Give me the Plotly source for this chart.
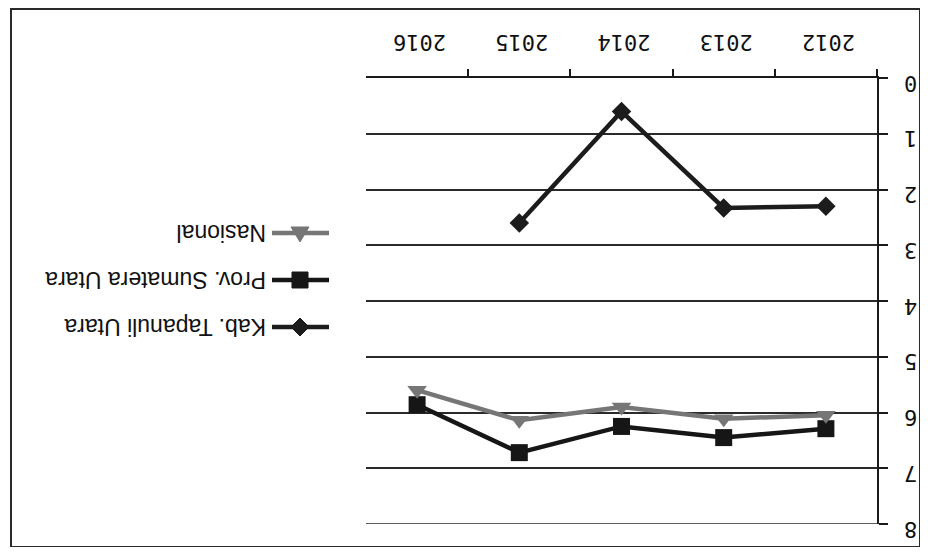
import plotly.graph_objects as go

years = ["2012", "2013", "2014", "2015", "2016"]
kab_tapanuli = [2.3, 2.33, 0.6, 2.6, None]
prov_sumut = [6.29, 6.45, 6.25, 6.72, 5.86]
nasional = [6.05, 6.11, 5.9, 6.14, 5.6]
y_ticks = [0, 1, 2, 3, 4, 5, 6, 7, 8]

names = ["Kab. Tapanuli Utara", "Prov. Sumatera Utara", "Nasional"]
colors = ["#1c1c1c", "#161616", "#767676"]
symbols = ["diamond", "square", "triangle-down"]
sizes = [15, 17, 17]

# page has an 8px body margin -> figure origin sits at page (8, 8)
OFF = 8
W_PX, H_PX = 912, 539
L, R, T, B = 358, 43, 70, 23
PW, PH = W_PX - L - R, H_PX - T - B


def px(x):  # page pixel -> paper x
    return (x - OFF - L) / PW


def py(y):  # page pixel -> paper y
    return 1 - (y - OFF - T) / PH


fig = go.Figure()
for name, vals, c, s, sz in zip(names, [kab_tapanuli, prov_sumut, nasional], colors, symbols, sizes):
    fig.add_trace(go.Scatter(
        x=years, y=vals, mode="lines+markers", name=name,
        line=dict(color=c, width=4.5),
        marker=dict(symbol=s, size=sz, color=c),
        showlegend=False, connectgaps=False,
    ))

# upside-down legend drawn with shapes + rotated annotations
leg_y = [327, 280, 233]
mx = 300
shapes = []
for yy, c in zip(leg_y, colors):
    shapes.append(dict(type="line", xref="paper", yref="paper",
                       x0=px(272), x1=px(329), y0=py(yy), y1=py(yy),
                       line=dict(color=c, width=4.5)))


def path(points):
    return "M " + " L ".join(f"{px(a):.5f},{py(b):.5f}" for a, b in points) + " Z"


yk, yp, yn = leg_y
shapes.append(dict(type="path", xref="paper", yref="paper", fillcolor=colors[0],
                   line=dict(color=colors[0], width=1),
                   path=path([(mx - 9, yk), (mx, yk - 9), (mx + 9, yk), (mx, yk + 9)])))
shapes.append(dict(type="path", xref="paper", yref="paper", fillcolor=colors[1],
                   line=dict(color=colors[1], width=1),
                   path=path([(mx - 8, yp - 8), (mx + 8, yp - 8), (mx + 8, yp + 8), (mx - 8, yp + 8)])))
shapes.append(dict(type="path", xref="paper", yref="paper", fillcolor=colors[2],
                   line=dict(color=colors[2], width=1),
                   path=path([(mx - 9, yn - 6), (mx + 9, yn - 6), (mx, yn + 9)])))
# gridline at the last tick (plotly skips the one on the plot edge)
shapes.append(dict(type="line", xref="paper", yref="y", x0=0, x1=1,
                   y0=y_ticks[-1], y1=y_ticks[-1],
                   line=dict(color="#2a2a2a", width=1.5), layer="below"))
# outer frame
shapes.append(dict(type="rect", xref="paper", yref="paper",
                   x0=px(11), x1=px(920), y0=py(9), y1=py(547),
                   line=dict(color="#2a2a2a", width=2), layer="below"))

annotations = []
for yy, name in zip(leg_y, names):
    annotations.append(dict(
        xref="paper", yref="paper", x=px(268), y=py(yy),
        text=name, showarrow=False, textangle=180,
        xanchor="right", yanchor="middle",
        font=dict(family="Liberation Sans", size=23, color="#111111"),
    ))

fig.update_layout(
    width=W_PX, height=H_PX,
    margin=dict(l=L, r=R, t=T, b=B, autoexpand=False),
    paper_bgcolor="white", plot_bgcolor="white",
    shapes=shapes, annotations=annotations,
    xaxis=dict(
        type="category", categoryorder="array", categoryarray=years,
        range=[4.5, -0.5], side="top", automargin=False,
        showline=True, linecolor="#1a1a1a", linewidth=1.5,
        ticks="outside", ticklen=7, tickcolor="#1a1a1a", tickwidth=1.5,
        tickson="boundaries", showgrid=False, zeroline=False,
        tickangle=180, ticklabelstandoff=10, ticklabelshift=-29,
        tickfont=dict(family="DejaVu Sans Mono", size=22, color="#111111"),
    ),
    yaxis=dict(
        range=[8, 0], side="right", tickmode="array", tickvals=y_ticks,
        automargin=False,
        showline=True, linecolor="#1a1a1a", linewidth=1.5,
        ticks="outside", ticklen=9, tickcolor="#1a1a1a", tickwidth=1.5,
        showgrid=True, gridcolor="#2a2a2a", gridwidth=1.5, zeroline=False,
        tickangle=180, ticklabelstandoff=25, ticklabelshift=-12,
        tickfont=dict(family="DejaVu Sans Mono", size=22, color="#111111"),
    ),
)

fig.write_html("out.html")
